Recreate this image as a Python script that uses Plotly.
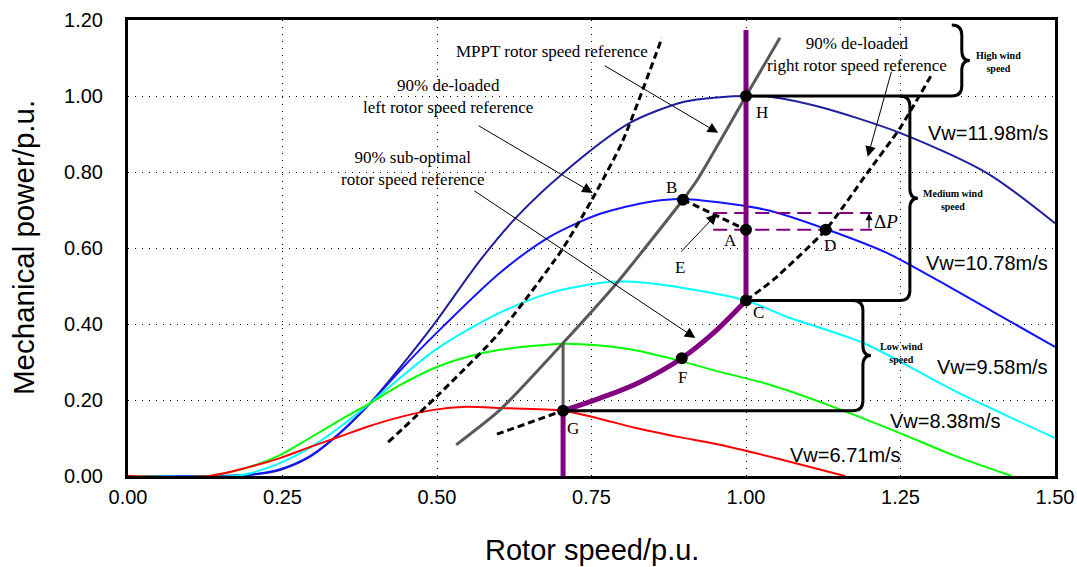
import plotly.graph_objects as go

# ---------------- canvas / axes geometry ----------------
WIDTH, HEIGHT = 1077, 567
M_L, M_R, M_T, M_B = 128, 22, 20, 91
X_RANGE = [0.0, 1.5]
Y_RANGE = [0.0, 1.2]
PX_PER_X = (WIDTH - M_L - M_R) / (X_RANGE[1] - X_RANGE[0])
PX_PER_Y = (HEIGHT - M_T - M_B) / (Y_RANGE[1] - Y_RANGE[0])

X_TICKS = [0.0, 0.25, 0.5, 0.75, 1.0, 1.25, 1.5]
Y_TICKS = [0.0, 0.2, 0.4, 0.6, 0.8, 1.0, 1.2]

SANS = "Liberation Sans, Arial, sans-serif"
SERIF = "Liberation Serif, Times New Roman, serif"
PURPLE = "#800080"

# ---------------- turbine power curves ----------------
WIND_LABELS = ["Vw=11.98m/s", "Vw=10.78m/s", "Vw=9.58m/s", "Vw=8.38m/s", "Vw=6.71m/s"]
WIND_COLORS = ["#1f1f9e", "#1414ff", "#00ffff", "#00ff00", "#ff0000"]

W_1198 = [0.0, 0.15, 0.197, 0.246, 0.294, 0.343, 0.392, 0.44, 0.494, 0.57, 0.629,
          0.704, 0.812, 0.9, 0.958, 1.0, 1.044, 1.12, 1.249, 1.39, 1.5]
P_1198 = [0.0, 0.0, 0.003, 0.016, 0.05, 0.113, 0.192, 0.285, 0.397, 0.568, 0.682,
          0.797, 0.929, 0.985, 0.997, 1.0, 0.997, 0.971, 0.903, 0.797, 0.665]

W_1078 = [0.0, 0.15, 0.2, 0.246, 0.294, 0.343, 0.392, 0.44, 0.494, 0.602, 0.683,
          0.764, 0.845, 0.898, 0.979, 1.039, 1.129, 1.228, 1.309, 1.4, 1.5]
P_1078 = [0.0, 0.0, 0.004, 0.018, 0.052, 0.113, 0.192, 0.277, 0.368, 0.535, 0.63,
          0.69, 0.722, 0.729, 0.715, 0.698, 0.65, 0.587, 0.516, 0.432, 0.34]

W_958 = [0.0, 0.17, 0.2, 0.246, 0.294, 0.343, 0.392, 0.44, 0.494, 0.548, 0.602,
         0.683, 0.764, 0.817, 0.898, 1.0, 1.066, 1.19, 1.335, 1.5]
P_958 = [0.0, 0.0, 0.008, 0.034, 0.074, 0.129, 0.192, 0.258, 0.328, 0.383, 0.43,
         0.482, 0.508, 0.511, 0.495, 0.462, 0.419, 0.35, 0.226, 0.1]

W_838 = [0.0, 0.13, 0.197, 0.246, 0.294, 0.343, 0.392, 0.44, 0.494, 0.548, 0.602,
         0.704, 0.76, 0.817, 0.893, 0.953, 1.039, 1.141, 1.249, 1.335, 1.43]
P_838 = [0.0, 0.0, 0.024, 0.055, 0.1, 0.147, 0.192, 0.239, 0.283, 0.313, 0.332,
         0.348, 0.344, 0.332, 0.303, 0.276, 0.24, 0.182, 0.113, 0.055, 0.0]

W_671 = [0.0, 0.13, 0.197, 0.246, 0.294, 0.343, 0.386, 0.44, 0.494, 0.548, 0.602,
         0.704, 0.76, 0.82, 0.89, 0.958, 1.06, 1.16]
P_671 = [0.0, 0.0, 0.024, 0.047, 0.076, 0.104, 0.129, 0.155, 0.174, 0.182, 0.179,
         0.172, 0.152, 0.127, 0.103, 0.082, 0.042, 0.0]

CURVES_W = [W_1198, W_1078, W_958, W_838, W_671]
CURVES_P = [P_1198, P_1078, P_958, P_838, P_671]

# ---------------- rotor speed reference trajectories ----------------
MPPT_W = [0.531, 0.602, 0.704, 0.791, 0.898, 0.921, 1.0, 1.055]
MPPT_P = [0.082, 0.174, 0.35, 0.508, 0.727, 0.779, 1.0, 1.153]

LEFT_W = [0.421, 0.5, 0.6, 0.7, 0.75, 0.8, 0.864]
LEFT_P = [0.089, 0.21, 0.375, 0.59, 0.725, 0.88, 1.153]

RIGHT_LOW_W = [0.597, 0.704]
RIGHT_LOW_P = [0.11, 0.172]
RIGHT_HIGH_W = [1.0, 1.044, 1.129, 1.196, 1.249, 1.3]
RIGHT_HIGH_P = [0.462, 0.516, 0.648, 0.797, 0.915, 1.055]

SUBOPT_W = [0.704, 0.764, 0.828, 0.896, 0.947, 1.0]
SUBOPT_P = [0.172, 0.205, 0.247, 0.31, 0.376, 0.462]

# operating points
PT_NAMES = ["B", "A", "D", "H", "C", "F", "G"]
PT_W = [0.898, 1.0, 1.129, 1.0, 1.0, 0.896, 0.704]
PT_P = [0.727, 0.648, 0.648, 1.0, 0.462, 0.31, 0.172]
PT_LABEL_SHIFT = [(-11, 12), (-16, -11), (4, -16), (16, -16), (12, -12), (1, -19), (10, -18)]

DP_LEVELS = [0.692, 0.648]          # de-loading margin levels
DP_SPAN = [0.947, 1.204]

MPPT_TOP = 1.174                     # upper end of the purple speed limit line

pt = dict(zip(PT_NAMES, zip(PT_W, PT_P)))


def dx(px):
    return px / PX_PER_X


def dy(px):
    return px / PX_PER_Y


fig = go.Figure()

for w, p, c in zip(CURVES_W, CURVES_P, WIND_COLORS):
    fig.add_trace(go.Scatter(x=w, y=p, mode="lines",
                             line=dict(color=c, width=2, shape="spline", smoothing=0.8)))

# MPPT reference
fig.add_trace(go.Scatter(x=MPPT_W, y=MPPT_P, mode="lines",
                         line=dict(color="#595959", width=3, shape="spline", smoothing=0.6)))
fig.add_trace(go.Scatter(x=[pt["G"][0], pt["G"][0]], y=[MPPT_P[2], pt["G"][1]], mode="lines",
                         line=dict(color="#595959", width=3)))

# de-loaded references (dashed)
dash_line = dict(color="black", width=3, dash="7px,4px")
fig.add_trace(go.Scatter(x=LEFT_W, y=LEFT_P, mode="lines",
                         line=dict(dash_line, shape="spline", smoothing=0.6)))
fig.add_trace(go.Scatter(x=RIGHT_LOW_W, y=RIGHT_LOW_P, mode="lines", line=dash_line))
fig.add_trace(go.Scatter(x=RIGHT_HIGH_W, y=RIGHT_HIGH_P, mode="lines",
                         line=dict(dash_line, shape="spline", smoothing=0.6)))
fig.add_trace(go.Scatter(x=[pt["B"][0], pt["A"][0]], y=[pt["B"][1], pt["A"][1]],
                         mode="lines", line=dash_line))

# de-loading margin
for lvl in DP_LEVELS:
    fig.add_trace(go.Scatter(x=DP_SPAN, y=[lvl, lvl], mode="lines",
                             line=dict(color=PURPLE, width=2, dash="14px,7px")))

# purple operating trajectory
fig.add_trace(go.Scatter(x=[1.0, 1.0], y=[MPPT_TOP, pt["C"][1]], mode="lines",
                         line=dict(color=PURPLE, width=5)))
fig.add_trace(go.Scatter(x=SUBOPT_W, y=SUBOPT_P, mode="lines",
                         line=dict(color=PURPLE, width=5, shape="spline")))
fig.add_trace(go.Scatter(x=[pt["G"][0], pt["G"][0]], y=[pt["G"][1], 0.0], mode="lines",
                         line=dict(color=PURPLE, width=5)))


# curly braces grouping the wind speed regions
def brace(x_left, y_top, y_bot, anchor):
    r_x, r_y = dx(10), dy(10)
    tip = dx(18)
    xv = x_left + r_x
    ym = (y_top + y_bot) / 2
    return (f"M {x_left},{y_top} Q {xv},{y_top} {xv},{y_top - r_y} "
            f"L {xv},{ym + r_y} Q {xv},{ym} {x_left + tip},{ym} "
            f"Q {xv},{ym} {xv},{ym - r_y} "
            f"L {xv},{y_bot + r_y} Q {xv},{y_bot} {x_left},{y_bot} "
            f"L {anchor[0]},{anchor[1]}")


shapes = [
    dict(type="path", path=brace(1.333, 1.187, pt["H"][1], pt["H"]), xref="x", yref="y",
         line=dict(color="black", width=3)),
    dict(type="path", path=brace(1.249, pt["H"][1], pt["C"][1], pt["C"]), xref="x", yref="y",
         line=dict(color="black", width=3)),
    dict(type="path", path=brace(1.173, pt["C"][1], pt["G"][1], pt["G"]), xref="x", yref="y",
         line=dict(color="black", width=3)),
]

# operating point markers
fig.add_trace(go.Scatter(x=PT_W, y=PT_P, mode="markers",
                         marker=dict(color="black", size=12)))

ann = []
for name, (sx, sy) in zip(PT_NAMES, PT_LABEL_SHIFT):
    ann.append(dict(x=pt[name][0], y=pt[name][1], text=name, showarrow=False,
                    xshift=sx, yshift=sy, font=dict(family=SERIF, size=17, color="black")))

# wind speed labels
WIND_LABEL_POS = [(1.492, 0.903), (1.492, 0.561), (1.492, 0.287), (1.416, 0.145), (1.254, 0.055)]
for txt, (x, y) in zip(WIND_LABELS, WIND_LABEL_POS):
    ann.append(dict(x=x, y=y, text=txt, showarrow=False, xanchor="right",
                    font=dict(family=SANS, size=20, color="black")))

# region notes
for txt, (x, y) in [("High wind<br>speed", (1.408, 1.089)),
                    ("Medium wind<br>speed", (1.335, 0.726)),
                    ("Low wind<br>speed", (1.252, 0.324))]:
    ann.append(dict(x=x, y=y, text=f"<b>{txt}</b>", showarrow=False,
                    font=dict(family=SERIF, size=10, color="black")))

# reference descriptions with arrows
NOTES = [
    ("MPPT rotor speed reference", (0.686, 1.116), (0.769, 1.082), (0.955, 0.903)),
    ("90% de-loaded<br>left rotor speed reference", (0.518, 0.999), (0.565, 0.924), (0.752, 0.745)),
    ("90% sub-optimal<br>rotor speed reference", (0.46, 0.81), (0.558, 0.753), (0.918, 0.363)),
    ("90% de-loaded<br>right rotor speed reference", (1.18, 1.11), (1.236, 1.068), (1.197, 0.84)),
    ("", (0.0, 0.0), (0.893, 0.587), (0.953, 0.69)),
]
for txt, tpos, tail, head in NOTES:
    if txt:
        ann.append(dict(x=tpos[0], y=tpos[1], text=txt, showarrow=False,
                        font=dict(family=SERIF, size=17, color="black")))
    ann.append(dict(x=head[0], y=head[1], ax=tail[0], ay=tail[1], axref="x", ayref="y",
                    text="", showarrow=True, arrowhead=2, arrowsize=2.1, arrowwidth=1,
                    arrowcolor="black", standoff=0, startstandoff=0))
ann.append(dict(x=0.893, y=0.587, text="E", showarrow=False, yshift=-15,
                font=dict(family=SERIF, size=17, color="black")))

# delta P marker
ann.append(dict(x=1.199, y=DP_LEVELS[0], ax=1.199, ay=DP_LEVELS[1], axref="x", ayref="y",
                text="", showarrow=True, arrowhead=2, arrowsize=1.2, arrowwidth=1.2,
                arrowcolor="black", standoff=0))
ann.append(dict(x=1.227, y=sum(DP_LEVELS) / 2, text="Δ<i>P</i>", showarrow=False,
                font=dict(family=SERIF, size=19, color="black")))

# axis titles
ann.append(dict(x=0.5, y=0, xref="paper", yref="paper", text="Rotor speed/p.u.",
                showarrow=False, yanchor="middle", yshift=-74,
                font=dict(family=SANS, size=29, color="black")))
ann.append(dict(x=0, y=0.5, xref="paper", yref="paper", text="Mechanical power/p.u.",
                showarrow=False, xanchor="center", yanchor="middle", xshift=-105,
                textangle=-90, font=dict(family=SANS, size=29.5, color="black")))

grid = dict(showgrid=True, gridcolor="black", gridwidth=1.3, griddash="1px,6px",
            zeroline=False, showline=True, linecolor="black", linewidth=3, mirror=True,
            automargin=False, ticks="", tickformat=".2f",
            tickfont=dict(family=SANS, size=20, color="black"))

fig.update_layout(
    width=WIDTH, height=HEIGHT, autosize=False,
    margin=dict(l=M_L, r=M_R, t=M_T, b=M_B, autoexpand=False),
    paper_bgcolor="white", plot_bgcolor="white",
    showlegend=False,
    xaxis=dict(grid, range=X_RANGE, tickvals=X_TICKS, ticklabelstandoff=1),
    yaxis=dict(grid, range=Y_RANGE, tickvals=Y_TICKS, ticklabelstandoff=18),
    shapes=shapes,
    annotations=ann,
)

fig.write_html("out.html")
